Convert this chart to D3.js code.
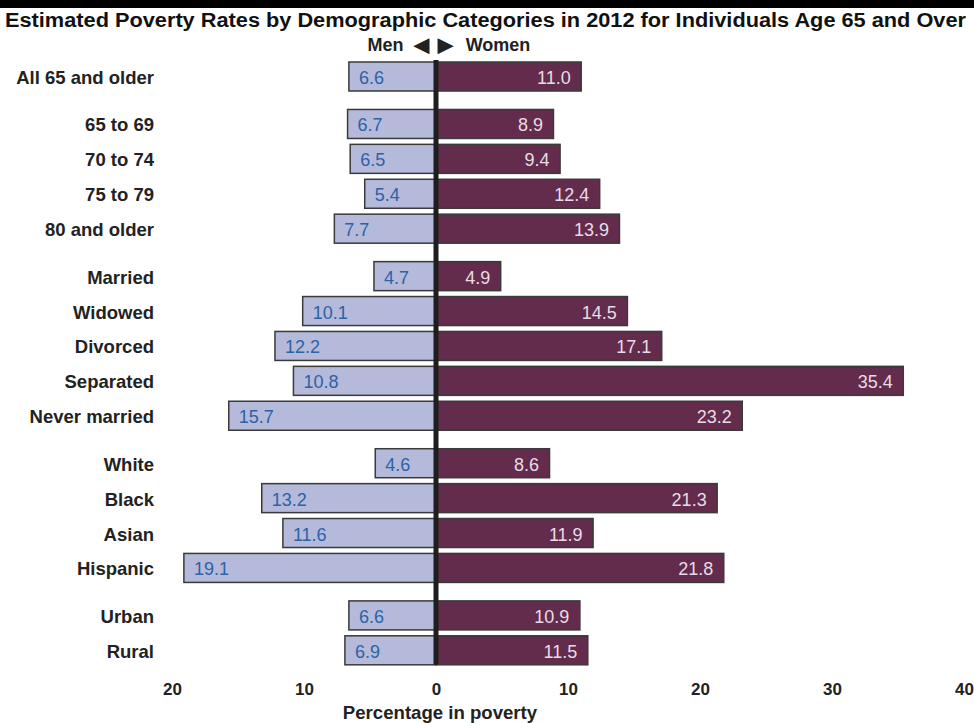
<!DOCTYPE html>
<html>
<head>
<meta charset="utf-8">
<script src="https://cdn.jsdelivr.net/npm/d3@7"></script>
<style>
  body { margin: 0; background: #fff; font-family: "Liberation Sans", Arial, sans-serif; }
  .cat { font-weight: bold; font-size: 18.5px; fill: #222; }
  .men-val { font-size: 18px; fill: #2b63a6; }
  .women-val { font-size: 18px; fill: #e8dde5; }
  .legend { font-weight: bold; font-size: 18px; fill: #222; }
  .arrow { font-family: "Liberation Sans", Arial, sans-serif; font-size: 27px; letter-spacing: -5px; fill: #222; }
</style>
</head>
<body>
<script>
  // data
  var categories = ["All 65 and older", "65 to 69", "70 to 74", "75 to 79", "80 and older",
    "Married", "Widowed", "Divorced", "Separated", "Never married",
    "White", "Black", "Asian", "Hispanic", "Urban", "Rural"];
  var groups = [0, 1, 1, 1, 1, 2, 2, 2, 2, 2, 3, 3, 3, 3, 4, 4];
  var men = [6.6, 6.7, 6.5, 5.4, 7.7, 4.7, 10.1, 12.2, 10.8, 15.7, 4.6, 13.2, 11.6, 19.1, 6.6, 6.9];
  var women = [11.0, 8.9, 9.4, 12.4, 13.9, 4.9, 14.5, 17.1, 35.4, 23.2, 8.6, 21.3, 11.9, 21.8, 10.9, 11.5];
  var tickValues = [-20, -10, 0, 10, 20, 30, 40];

  var W = 974, H = 723;
  var svg = d3.select("body").append("svg").attr("width", W).attr("height", H);

  var x = d3.scaleLinear().domain([-20, 40]).range([172, 964]);

  // slot position: row index plus a gap for each group change
  var gapFrac = 0.36;
  var slot = categories.map((c, i) => i + groups[i] * gapFrac);
  var y = d3.scaleLinear().domain([0, d3.max(slot)]).range([76.5, 650.3]);
  var barH = 29;

  // top black band
  svg.append("rect").attr("x", 0).attr("y", 0).attr("width", W).attr("height", 8).attr("fill", "#000");

  svg.append("text")
    .attr("x", 5).attr("y", 27)
    .attr("textLength", 961).attr("lengthAdjust", "spacingAndGlyphs")
    .style("font-weight", "bold").style("font-size", "19.5px").style("fill", "#111")
    .text("Estimated Poverty Rates by Demographic Categories in 2012 for Individuals Age 65 and Over");

  // Men ◄ ► Women
  svg.append("text").attr("class", "legend").attr("x", 403.5).attr("y", 51.3)
    .attr("text-anchor", "end").text("Men");
  svg.append("text").attr("class", "arrow").attr("x", 431).attr("y", 54)
    .attr("text-anchor", "middle").text("\u25C4 \u25BA");
  svg.append("text").attr("class", "legend").attr("x", 465.7).attr("y", 51.3)
    .text("Women");

  var rows = svg.append("g");

  rows.selectAll(".men-bar").data(men).enter().append("rect")
    .attr("class", "men-bar")
    .attr("x", d => x(-d))
    .attr("y", (d, i) => y(slot[i]) - barH / 2)
    .attr("width", d => x(0) - x(-d))
    .attr("height", barH)
    .attr("fill", "#b5b9da")
    .attr("stroke", "#3a3a3a").attr("stroke-width", 1.5);

  rows.selectAll(".women-bar").data(women).enter().append("rect")
    .attr("class", "women-bar")
    .attr("x", x(0))
    .attr("y", (d, i) => y(slot[i]) - barH / 2)
    .attr("width", d => x(d) - x(0))
    .attr("height", barH)
    .attr("fill", "#632c4d")
    .attr("stroke", "#3a3a3a").attr("stroke-width", 1.5);

  rows.selectAll(".men-val").data(men).enter().append("text")
    .attr("class", "men-val")
    .attr("x", d => x(-d) + 10)
    .attr("y", (d, i) => y(slot[i]) + 7.5)
    .text(d => d.toFixed(1));

  rows.selectAll(".women-val").data(women).enter().append("text")
    .attr("class", "women-val")
    .attr("x", d => x(d) - 10.5)
    .attr("y", (d, i) => y(slot[i]) + 7.5)
    .attr("text-anchor", "end")
    .text(d => d.toFixed(1));

  rows.selectAll(".cat").data(categories).enter().append("text")
    .attr("class", "cat")
    .attr("x", 154)
    .attr("y", (d, i) => y(slot[i]) + 7.5)
    .attr("text-anchor", "end")
    .text(d => d);

  // zero line
  svg.append("line")
    .attr("x1", x(0)).attr("x2", x(0))
    .attr("y1", y(0) - barH / 2 - 2).attr("y2", y(d3.max(slot)) + barH / 2)
    .attr("stroke", "#1e1e1e").attr("stroke-width", 5);

  // x axis labels (no axis line)
  var axis = svg.append("g")
    .attr("transform", "translate(0,695)")
    .call(d3.axisBottom(x).tickValues(tickValues).tickSize(0).tickPadding(0).tickFormat(d => Math.abs(d)));
  axis.select(".domain").remove();
  axis.selectAll("text").attr("dy", 0).attr("y", 0)
    .style("font-family", "Liberation Sans, Arial, sans-serif")
    .style("font-size", "17px").style("font-weight", "bold").style("fill", "#222");

  svg.append("text")
    .attr("x", 440).attr("y", 719)
    .attr("text-anchor", "middle")
    .style("font-weight", "bold").style("font-size", "18.6px").style("fill", "#222")
    .text("Percentage in poverty");
</script>
</body>
</html>
